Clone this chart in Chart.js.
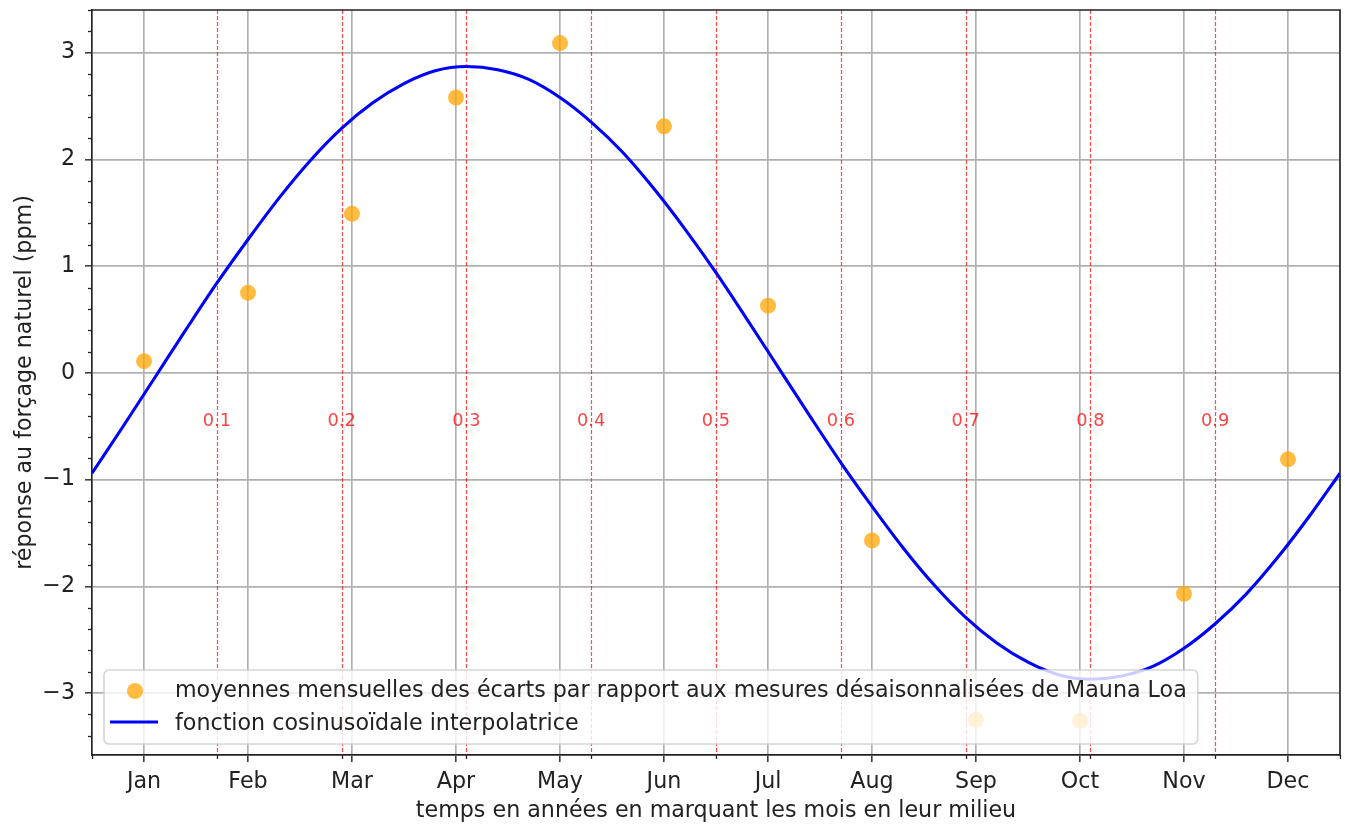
<!DOCTYPE html>
<html>
<head>
<meta charset="utf-8">
<script src="https://cdn.jsdelivr.net/npm/chart.js@4"></script>
<style>
  html, body { margin: 0; padding: 0; background: #fff; }
</style>
</head>
<body>
<canvas id="c" width="1345" height="825"></canvas>
<script>
// ── data ──
const months = ['Jan','Feb','Mar','Apr','May','Jun','Jul','Aug','Sep','Oct','Nov','Dec'];
const monthCenters = [0.0417, 0.125, 0.2083, 0.2917, 0.375, 0.4583, 0.5417, 0.625, 0.7083, 0.7917, 0.875, 0.9583];
const monthlyMeans = [0.11, 0.75, 1.49, 2.58, 3.09, 2.31, 0.63, -1.57, -3.25, -3.26, -2.07, -0.81];

// interpolating cosine, sampled every 1/40 year
const curveT = [0, 0.025, 0.05, 0.075, 0.1, 0.125, 0.15, 0.175, 0.2, 0.225,
                0.25, 0.275, 0.3, 0.325, 0.35, 0.375, 0.4, 0.425, 0.45, 0.475,
                0.5, 0.525, 0.55, 0.575, 0.6, 0.625, 0.65, 0.675, 0.7, 0.725,
                0.75, 0.775, 0.8, 0.825, 0.85, 0.875, 0.9, 0.925, 0.95, 0.975, 1];
const curveY = [-0.94, -0.50, -0.05, 0.40, 0.84, 1.25, 1.64, 1.99, 2.29, 2.53,
                2.71, 2.83, 2.87, 2.84, 2.75, 2.58, 2.35, 2.07, 1.73, 1.35,
                0.94, 0.50, 0.05, -0.40, -0.84, -1.25, -1.64, -1.99, -2.29, -2.53,
                -2.71, -2.83, -2.87, -2.84, -2.75, -2.58, -2.35, -2.07, -1.73, -1.35, -0.94];

const markers = [0.1, 0.2, 0.3, 0.4, 0.5, 0.6, 0.7, 0.8, 0.9];
const markerLabels = ['0.1','0.2','0.3','0.4','0.5','0.6','0.7','0.8','0.9'];
const yTicks = [-3, -2, -1, 0, 1, 2, 3];
const yMinor = [-3.4, -3.2, -2.8, -2.6, -2.4, -2.2, -1.8, -1.6, -1.4, -1.2, -0.8, -0.6, -0.4, -0.2,
                0.2, 0.4, 0.6, 0.8, 1.2, 1.4, 1.6, 1.8, 2.2, 2.4, 2.6, 2.8, 3.2, 3.4];
const xMinor = [0, 0.1, 0.2, 0.3, 0.4, 0.5, 0.6, 0.7, 0.8, 0.9, 1];
const seriesLabels = [
  'moyennes mensuelles des écarts par rapport aux mesures désaisonnalisées de Mauna Loa',
  'fonction cosinusoïdale interpolatrice'
];

const FONT = '"DejaVu Sans", sans-serif';
const FS = 22.2;
const INK = '#222';
const LW = 1.67;

// ─────────────────────────────────────────────
//  extra drawing: red markers, minor ticks, frame, legend
// ─────────────────────────────────────────────
const decor = {
  id: 'decor',
  beforeDatasetsDraw(chart) {
    const { ctx, chartArea: a, scales: { x, y } } = chart;
    ctx.save();
    // red dashed verticals
    ctx.strokeStyle = 'rgba(255,0,0,0.7)';
    ctx.lineWidth = 1.2;
    ctx.setLineDash([4, 2]);
    markers.forEach(m => {
      const px = Math.round(x.getPixelForValue(m)) + 0.5;
      ctx.beginPath(); ctx.moveTo(px, a.top); ctx.lineTo(px, a.bottom); ctx.stroke();
    });
    ctx.setLineDash([]);
    // labels
    ctx.fillStyle = 'rgba(255,0,0,0.75)';
    ctx.font = '17.8px ' + FONT;
    ctx.textAlign = 'center';
    ctx.textBaseline = 'alphabetic';
    markers.forEach((m, i) => {
      ctx.fillText(markerLabels[i], x.getPixelForValue(m), y.getPixelForValue(-0.5));
    });
    // minor ticks
    ctx.strokeStyle = INK;
    ctx.lineWidth = 1.3;
    yMinor.forEach(v => {
      const py = Math.round(y.getPixelForValue(v)) + 0.5;
      ctx.beginPath(); ctx.moveTo(a.left, py); ctx.lineTo(a.left - 4, py); ctx.stroke();
    });
    xMinor.forEach(v => {
      const px = Math.round(x.getPixelForValue(v)) + 0.5;
      ctx.beginPath(); ctx.moveTo(px, a.bottom); ctx.lineTo(px, a.bottom + 4); ctx.stroke();
    });
    ctx.restore();
  },
  afterDatasetsDraw(chart) {
    const { ctx, chartArea: a } = chart;
    const ds = chart.data.datasets;
    ctx.save();
    // top + right spines
    ctx.strokeStyle = INK;
    ctx.lineWidth = LW;
    ctx.beginPath();
    ctx.moveTo(a.left, a.top); ctx.lineTo(a.right, a.top); ctx.lineTo(a.right, a.bottom);
    ctx.stroke();

    // legend box, lower left inside the axes
    ctx.font = FS + 'px ' + FONT;
    const textX = a.left + 83;
    const w = Math.max(...seriesLabels.map(s => ctx.measureText(s).width));
    const x0 = a.left + 12, y0 = a.bottom - 85, x1 = textX + w + 11, y1 = a.bottom - 11;
    ctx.beginPath();
    ctx.roundRect(x0, y0, x1 - x0, y1 - y0, 5);
    ctx.fillStyle = 'rgba(255,255,255,0.8)';
    ctx.fill();
    ctx.strokeStyle = 'rgba(204,204,204,0.8)';
    ctx.lineWidth = LW;
    ctx.stroke();

    ctx.fillStyle = ds[0].backgroundColor;
    ctx.beginPath(); ctx.arc(a.left + 43, a.bottom - 64, 8, 0, Math.PI * 2); ctx.fill();
    ctx.strokeStyle = ds[1].borderColor;
    ctx.lineWidth = 3.1;
    ctx.beginPath(); ctx.moveTo(a.left + 18, a.bottom - 33); ctx.lineTo(a.left + 66, a.bottom - 33); ctx.stroke();

    ctx.fillStyle = INK;
    ctx.textAlign = 'left';
    ctx.textBaseline = 'alphabetic';
    ctx.fillText(seriesLabels[0], textX, a.bottom - 58);
    ctx.fillText(seriesLabels[1], textX, a.bottom - 25);
    ctx.restore();
  }
};

const minus = v => String(v).replace('-', '\u2212');

new Chart(document.getElementById('c'), {
  type: 'scatter',
  data: {
    datasets: [
      {
        label: seriesLabels[0],
        data: monthCenters.map((t, i) => ({ x: t, y: monthlyMeans[i] })),
        backgroundColor: 'rgba(255,165,0,0.75)',
        borderWidth: 0,
        pointRadius: 8,
        pointHoverRadius: 8
      },
      {
        type: 'line',
        label: seriesLabels[1],
        data: curveT.map((t, i) => ({ x: t, y: curveY[i] })),
        borderColor: '#0000ff',
        borderWidth: 3.1,
        pointRadius: 0,
        fill: false,
        cubicInterpolationMode: 'monotone'
      }
    ]
  },
  options: {
    responsive: false,
    animation: false,
    devicePixelRatio: 1,
    layout: { autoPadding: false, padding: { top: 10, right: 5, left: 0, bottom: 0 } },
    plugins: { legend: { display: false }, tooltip: { enabled: false } },
    scales: {
      x: {
        type: 'linear', min: 0, max: 1,
        afterBuildTicks: s => { s.ticks = monthCenters.map(v => ({ value: v })); },
        afterFit: s => { s.height = 70; s.paddingLeft = 0; s.paddingRight = 0; },
        grid: { color: '#b0b0b0', lineWidth: LW, tickLength: 7, tickColor: INK, tickWidth: 1.4 },
        border: { color: INK, width: LW },
        ticks: {
          autoSkip: false, maxRotation: 0, padding: 7,
          color: INK, font: { family: FONT, size: FS },
          callback: (v, i) => months[i]
        },
        title: {
          display: true,
          text: 'temps en années en marquant les mois en leur milieu',
          color: INK, font: { family: FONT, size: FS },
          padding: { top: 0, bottom: 0 }
        }
      },
      y: {
        type: 'linear', min: -3.58, max: 3.4,
        afterBuildTicks: s => { s.ticks = yTicks.map(v => ({ value: v })); },
        afterFit: s => { s.width = 92; s.paddingTop = 0; s.paddingBottom = 0; },
        grid: { color: '#b0b0b0', lineWidth: LW, tickLength: 7, tickColor: INK, tickWidth: 1.4 },
        border: { color: INK, width: LW },
        ticks: {
          padding: 10, color: INK, font: { family: FONT, size: FS },
          callback: v => minus(v)
        },
        title: {
          display: true,
          text: 'réponse au forçage naturel (ppm)',
          color: INK, font: { family: FONT, size: FS },
          padding: { top: 12, bottom: 0 }
        }
      }
    }
  },
  plugins: [decor]
});
</script>
</body>
</html>
